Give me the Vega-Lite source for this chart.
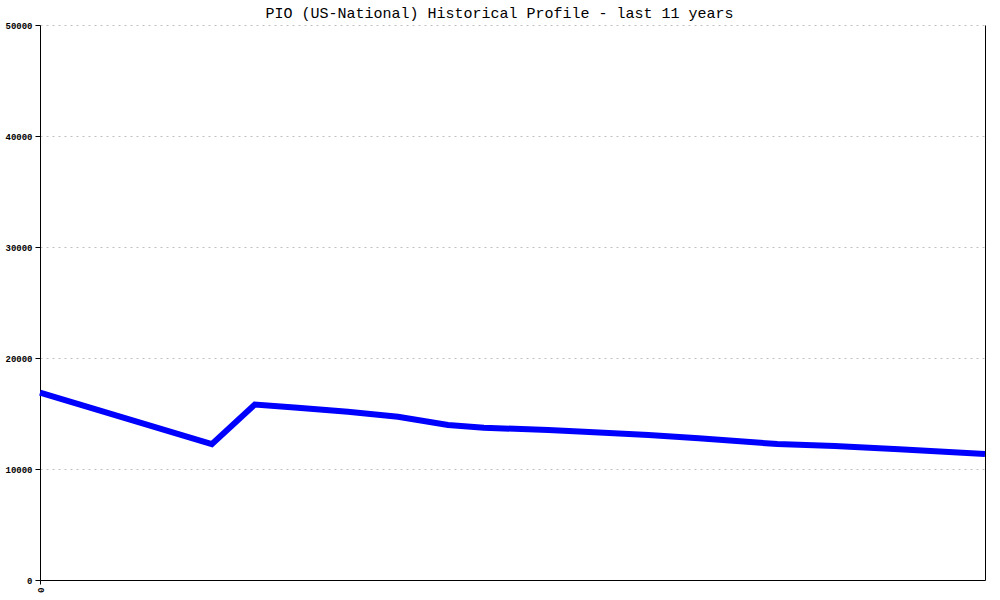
{
  "$schema": "https://vega.github.io/schema/vega-lite/v6.json",
  "width": 945,
  "height": 555,
  "autosize": {"type": "none"},
  "padding": {"left": 40, "top": 25, "right": 15, "bottom": 20},
  "background": "white",
  "config": {"view": {"stroke": null}},
  "title": {
    "text": "PIO (US-National) Historical Profile - last 11 years",
    "font": "Liberation Mono",
    "fontSize": 15,
    "fontWeight": "normal",
    "color": "black",
    "anchor": "middle",
    "dx": -13,
    "offset": 0
  },
  "data": {
    "values": [
      {"month": 0, "value": 16880},
      {"month": 24, "value": 12230},
      {"month": 30, "value": 15810},
      {"month": 36, "value": 15520},
      {"month": 43, "value": 15160},
      {"month": 50, "value": 14710},
      {"month": 57, "value": 13960},
      {"month": 62, "value": 13720},
      {"month": 71, "value": 13510},
      {"month": 76, "value": 13360},
      {"month": 85, "value": 13060},
      {"month": 92, "value": 12770},
      {"month": 103, "value": 12250},
      {"month": 111, "value": 12070},
      {"month": 120, "value": 11780},
      {"month": 132, "value": 11350}
    ]
  },
  "encoding": {
    "x": {
      "field": "month",
      "type": "quantitative",
      "scale": {"domain": [0, 132], "nice": false, "zero": false},
      "axis": {
        "title": null,
        "values": [0],
        "grid": false,
        "labelAngle": 90,
        "labelFont": "Liberation Mono",
        "labelFontSize": 9,
        "labelFontWeight": "bold",
        "labelColor": "black",
        "domainColor": "black",
        "tickColor": "black",
        "tickSize": 4,
        "labelPadding": 3
      }
    }
  },
  "layer": [
    {
      "mark": {"type": "line", "color": "#0000ff", "strokeWidth": 6, "strokeJoin": "miter"},
      "encoding": {
        "y": {
          "field": "value",
          "type": "quantitative",
          "scale": {"domain": [0, 50000], "nice": false},
          "axis": {
            "title": null,
            "values": [0, 10000, 20000, 30000, 40000, 50000],
            "format": "d",
            "labelFont": "Liberation Mono",
            "labelFontSize": 9,
            "labelFontWeight": "bold",
            "labelColor": "black",
            "domainColor": "black",
            "tickColor": "black",
            "tickSize": 5,
            "labelPadding": 3,
            "grid": true,
            "gridColor": "#c0c0c0",
            "gridDash": [2, 4],
            "gridWidth": 1
          }
        }
      }
    },
    {
      "mark": {"type": "line", "strokeOpacity": 0},
      "encoding": {
        "y": {
          "field": "value",
          "type": "quantitative",
          "scale": {"domain": [0, 50000], "nice": false},
          "axis": {
            "title": null,
            "orient": "right",
            "labels": false,
            "ticks": false,
            "grid": false,
            "domainColor": "black"
          }
        }
      }
    }
  ],
  "resolve": {"axis": {"y": "independent"}}
}
